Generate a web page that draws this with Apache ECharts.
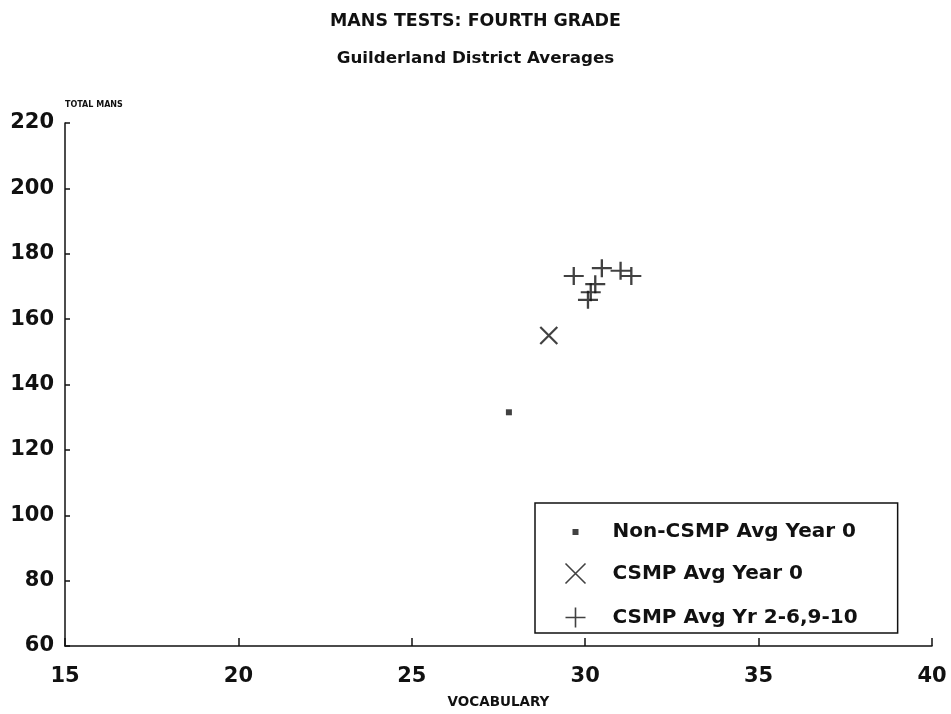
<!DOCTYPE html>
<html>
<head>
<meta charset="utf-8">
<script src="https://cdn.jsdelivr.net/npm/echarts@6/dist/echarts.min.js"></script>
<style>
  html, body { margin: 0; padding: 0; background: #fff; }
  #chart { width: 951px; height: 714px; }
</style>
</head>
<body>
<div id="chart"></div>
<script>
// Axis scales
const xTicks = [15, 20, 25, 30, 35, 40];
const yTicks = [60, 80, 100, 120, 140, 160, 180, 200, 220];

// District averages: [vocabulary, total MANS]
const nonCsmpYear0 = [[27.8, 131.5]];
const csmpYear0 = [[28.95, 155]];
const csmpLaterYears = [
  [29.67, 173.2],
  [30.48, 175.6],
  [31.02, 174.8],
  [31.33, 173.2],
  [30.29, 170.7],
  [30.16, 168.2],
  [30.08, 165.9]
];

const seriesNames = ['Non-CSMP Avg Year 0', 'CSMP Avg Year 0', 'CSMP Avg Yr 2-6,9-10'];

const INK = '#111111';
const FONT = 'DejaVu Sans';

const crossPath = 'path://M0,0L10,10M10,0L0,10';
const plusPath = 'path://M0,5L10,5M5,0L5,10';
// small filled square inside a larger invisible extent so the legend keeps it small
const smallSquareLegend = 'path://M0,0M20,20M7,7L13,7L13,13L7,13Z';

const chart = echarts.init(document.getElementById('chart'));

chart.setOption({
  animation: false,
  backgroundColor: '#fff',
  title: [
    {
      text: 'MANS TESTS: FOURTH GRADE',
      left: 'center', top: 8,
      textStyle: { fontFamily: FONT, fontWeight: 'bold', fontSize: 17.4, color: INK }
    },
    {
      text: 'Guilderland District Averages',
      left: 'center', top: 45,
      textStyle: { fontFamily: FONT, fontWeight: 'bold', fontSize: 16.7, color: INK }
    }
  ],
  grid: { left: 65, right: 19, top: 123, height: 526, containLabel: false },
  xAxis: {
    type: 'value',
    min: xTicks[0], max: xTicks[xTicks.length - 1], interval: 5,
    name: 'VOCABULARY',
    nameLocation: 'middle', nameGap: 49,
    nameTextStyle: { fontFamily: FONT, fontWeight: 'bold', fontSize: 13.5, color: INK },
    axisLine: { lineStyle: { color: INK, width: 1.5 } },
    axisTick: { inside: true, length: 8, lineStyle: { color: INK, width: 1.5 } },
    axisLabel: { margin: 20, fontFamily: FONT, fontWeight: 'bold', fontSize: 21, color: INK },
    splitLine: { show: false }
  },
  yAxis: {
    type: 'value',
    min: yTicks[0], max: yTicks[yTicks.length - 1], interval: 20,
    name: 'TOTAL MANS',
    nameLocation: 'end', nameGap: 14,
    nameTextStyle: { fontFamily: FONT, fontWeight: 'bold', fontSize: 8, color: INK, align: 'left' },
    axisLine: { lineStyle: { color: INK, width: 1.5 } },
    axisTick: { inside: true, length: 5, lineStyle: { color: INK, width: 1.5 } },
    axisLabel: { margin: 11, fontFamily: FONT, fontWeight: 'bold', fontSize: 21, color: INK },
    splitLine: { show: false }
  },
  legend: {
    orient: 'vertical',
    left: 535, top: 503,
    padding: [19, 40, 3, 28],
    itemGap: 19,
    itemWidth: 20, itemHeight: 20,
    borderColor: INK, borderWidth: 1.5, borderRadius: 0,
    textStyle: { fontFamily: FONT, fontWeight: 'bold', fontSize: 20, lineHeight: 20, color: INK, padding: [0, 0, 0, 22] },
    data: [
      { name: seriesNames[0], icon: smallSquareLegend, itemStyle: { color: INK, borderWidth: 0 } },
      { name: seriesNames[1], icon: crossPath, itemStyle: { color: 'none', borderColor: INK, borderWidth: 1.6 } },
      { name: seriesNames[2], icon: plusPath, itemStyle: { color: 'none', borderColor: INK, borderWidth: 1.6 } }
    ]
  },
  series: [
    {
      name: seriesNames[0], type: 'scatter',
      data: nonCsmpYear0,
      symbol: 'rect', symbolSize: 6,
      itemStyle: { color: INK }
    },
    {
      name: seriesNames[1], type: 'scatter',
      data: csmpYear0,
      symbol: crossPath, symbolSize: 17,
      itemStyle: { color: 'none', borderColor: INK, borderWidth: 2.2 }
    },
    {
      name: seriesNames[2], type: 'scatter',
      data: csmpLaterYears,
      symbol: plusPath, symbolSize: [20, 18],
      itemStyle: { color: 'none', borderColor: INK, borderWidth: 2.2 }
    }
  ]
});
</script>
</body>
</html>
